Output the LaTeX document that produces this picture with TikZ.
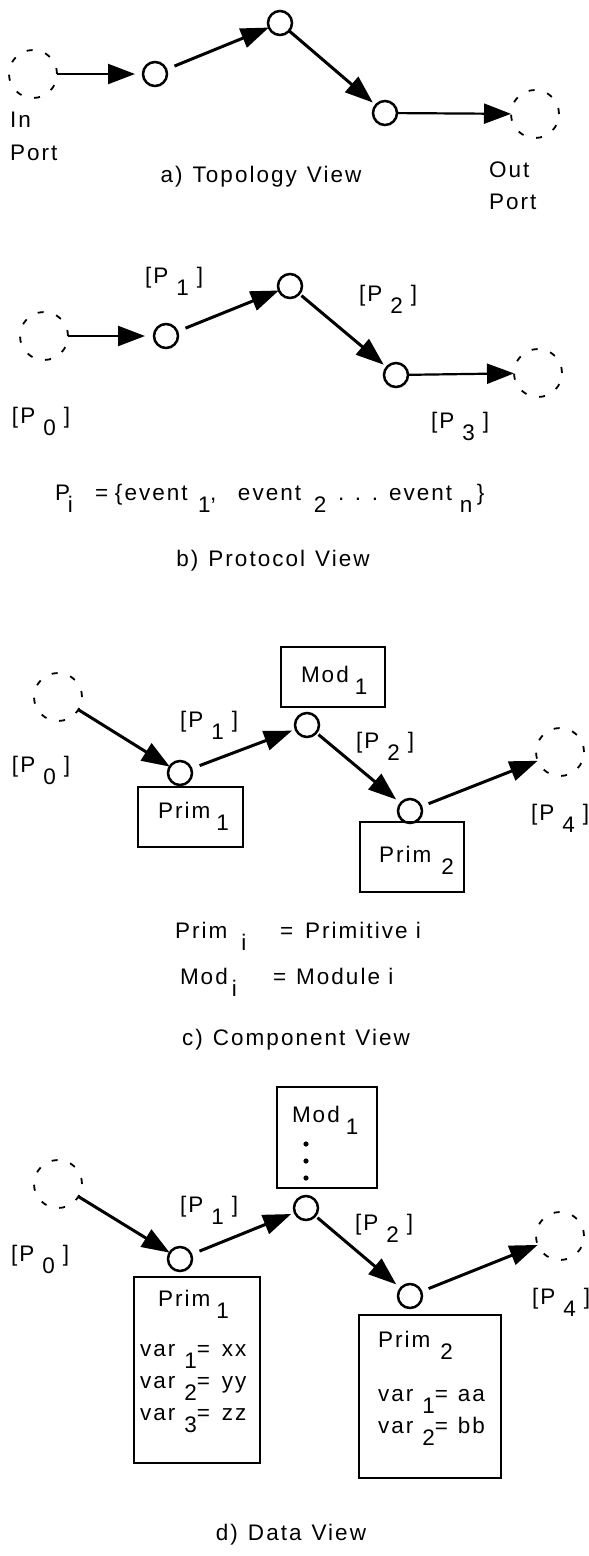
\documentclass[tikz,border=0pt]{standalone}
\usepackage{fontspec}
\setmainfont{Liberation Sans}[LetterSpace=9]
\usetikzlibrary{arrows.meta}
\newcommand\dn[1]{\lower12pt\hbox{#1}}
\newcommand\plab[1]{[P\kern8pt\dn{#1}\kern8pt]}
\newcommand\bx[2]{\makebox[#1][l]{#2}}
\begin{document}
\begin{tikzpicture}[x=1pt,y=-1pt,
  every node/.style={inner sep=0pt, outer sep=0pt},
  txt/.style={font=\fontsize{22.5}{26}\selectfont, anchor=base west},
  ttl/.style={font=\fontsize{22.5}{26}\selectfont, anchor=base},
  pt/.style={circle, draw, line width=2.5pt, minimum size=24pt},
  port/.style={circle, draw, line width=1.8pt, dash pattern=on 6pt off 13pt, minimum size=48pt},
  box/.style={draw, line width=2.4pt, rectangle},
  arr/.style={line width=3pt, -{Triangle[length=28pt,width=20pt]}},
  harr/.style={line width=2.2pt, -{Triangle[length=27pt,width=20pt]}},
]
\useasboundingbox (0,0) rectangle (589,1556);

% ---------- a) Topology View ----------
\node[port] (ina) at (33,74) {};
\node[pt] (a1) at (155,74) {};
\node[pt] (a2) at (280,23) {};
\node[pt] (a3) at (385,113) {};
\node[port] (outa) at (535,114) {};
\draw[harr, shorten >=8pt] (ina) -- (a1);
\draw[arr, shorten <=9pt] (a1) -- (a2);
\draw[arr, shorten >=4pt] (a2) -- (a3);
\draw[harr] (a3) -- (outa);
\node[txt] (inl) at (10,127) {In};
\node[txt] (inp) at (10,160) {Port};
\node[txt] (outl) at (489,177) {Out};
\node[txt] (outp) at (489,209) {Port};
\node[ttl] (ta) at (261,182) {a)\hspace{10pt}Topology\hspace{10pt}View};

% ---------- b) Protocol View ----------
\node[port] (inb) at (44,336) {};
\node[pt] (b1) at (166,336) {};
\node[pt] (b2) at (290,286) {};
\node[pt] (b3) at (396,375) {};
\node[port] (outb) at (538,373) {};
\draw[harr, shorten >=9pt] (inb) -- (b1);
\draw[arr, shorten <=9pt] (b1) -- (b2);
\draw[arr, shorten <=3pt, shorten >=4pt] (b2) -- (b3);
\draw[harr] (b3) -- (outb);
\node[txt] (pb1) at (145,283) {\plab{1}};
\node[txt] (pb2) at (359,301) {\plab{2}};
\node[txt] (pb0) at (12,423) {\plab{0}};
\node[txt] (pb3) at (431,428) {\plab{3}};
\node[txt] (pdef) at (55,500) {\bx{13pt}{P}\bx{27pt}{\dn{i}}\bx{20pt}{=}\bx{83pt}{\{event}\bx{12pt}{\dn{1}}\bx{28pt}{,}\bx{76pt}{event}\bx{24pt}{\dn{2}}\bx{17pt}{.}\bx{17pt}{.}\bx{17pt}{.}\bx{71pt}{event}\bx{17pt}{\dn{n}}\}};
\node[ttl] (tb) at (273,566) {b)\hspace{10pt}Protocol\hspace{10pt}View};

% ---------- c) Component View ----------
\node[port] (inc) at (58,697) {};
\node[pt] (c1) at (180,773) {};
\node[pt] (mc) at (307,725) {};
\node[pt] (c2) at (410,811) {};
\node[port] (outc) at (560,752) {};
\node[box, minimum width=105pt, minimum height=60pt] (prim1c) at (190.5,817) {};
\node[box, minimum width=104pt, minimum height=60pt] (modc) at (333,677) {};
\node[box, minimum width=104pt, minimum height=70pt] (prim2c) at (412,857) {};
\node[txt] (prim1ct) at (158,818) {Prim\kern6pt\dn{1}};
\node[txt] (modct) at (301,682) {Mod\kern6pt\dn{1}};
\node[txt] (prim2ct) at (379,862) {Prim\kern10pt\dn{2}};
\draw[arr] (inc) -- (c1);
\draw[arr, shorten <=9pt, shorten >=4pt] (c1) -- (mc);
\draw[arr, shorten <=3pt, shorten >=6pt] (mc) -- (c2);
\draw[arr, shorten <=8pt] (c2) -- (outc);
\node[txt] (pc0) at (12,772) {\plab{0}};
\node[txt] (pc1) at (180,727) {\plab{1}};
\node[txt] (pc2) at (356,748) {\plab{2}};
\node[txt] (pc4) at (531,820) {\plab{4}};
\node[txt] (primdef) at (175,938) {\bx{105pt}{Prim\kern14pt\dn{i}}=\hspace{12pt}Primitive i};
\node[txt] (moddef) at (180,984) {\bx{93pt}{Mod\kern4pt\dn{i}}=\hspace{10pt}Module i};
\node[ttl] (tc) at (296,1045) {c)\hspace{10pt}Component\hspace{10pt}View};

% ---------- d) Data View ----------
\node[port] (ind) at (58,1184) {};
\node[pt] (d1) at (180,1259) {};
\node[pt] (md) at (306,1208) {};
\node[pt] (d2) at (410,1296) {};
\node[port] (outd) at (560,1236) {};
\node[box, minimum width=100pt, minimum height=101pt] (modd) at (327,1137.5) {};
\node[box, minimum width=126pt, minimum height=186pt] (prim1d) at (197,1370) {};
\node[box, minimum width=142pt, minimum height=163pt] (prim2d) at (430,1396.5) {};
\node[txt] (moddt) at (292,1122) {Mod\kern6pt\dn{1}};
\fill (306,1144) circle (2.6pt) (306,1161) circle (2.6pt) (306,1178) circle (2.6pt);
\node[txt] (prim1dt) at (158,1306) {Prim\kern6pt\dn{1}};
\node[txt] (v11) at (140,1356) {var\kern9pt\dn{1}=\hspace{12pt}xx};
\node[txt] (v12) at (140,1388) {var\kern9pt\dn{2}=\hspace{12pt}yy};
\node[txt] (v13) at (140,1420) {var\kern9pt\dn{3}=\hspace{12pt}zz};
\node[txt] (prim2dt) at (378,1347) {Prim\kern10pt\dn{2}};
\node[txt] (v21) at (378,1401) {var\kern9pt\dn{1}=\hspace{10pt}aa};
\node[txt] (v22) at (378,1433) {var\kern9pt\dn{2}=\hspace{10pt}bb};
\draw[arr] (ind) -- (d1);
\draw[arr, shorten <=9pt, shorten >=4pt] (d1) -- (md);
\draw[arr, shorten <=3pt, shorten >=6pt] (md) -- (d2);
\draw[arr, shorten <=8pt] (d2) -- (outd);
\node[txt] (pd0) at (11,1261) {\plab{0}};
\node[txt] (pd1) at (180,1212) {\plab{1}};
\node[txt] (pd2) at (355,1230) {\plab{2}};
\node[txt] (pd4) at (532,1304) {\plab{4}};
\node[ttl] (td) at (291,1540) {d)\hspace{10pt}Data\hspace{10pt}View};
\end{tikzpicture}
\end{document}
